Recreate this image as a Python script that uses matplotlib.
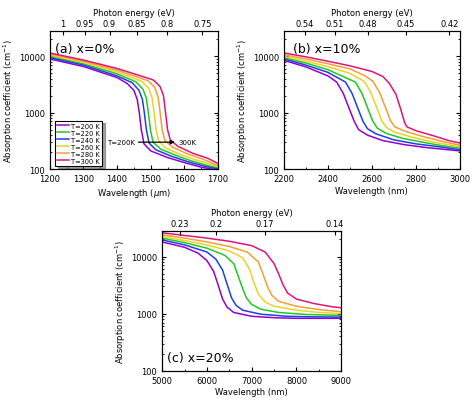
import matplotlib
matplotlib.use("Agg")
import matplotlib.pyplot as plt
import numpy as np

labels = ["T=200 K", "T=220 K", "T=240 K", "T=260 K", "T=280 K", "T=300 K"]
colors = ["#9400D3", "#22C822", "#1C3FE6", "#E8D428", "#F0A035", "#E0147C"]

a_x = [
 [1200,1300,1400,1430,1450,1460,1466,1472,1480,1500,1550,1600,1650,1700],
 [1200,1300,1400,1457,1477,1487,1493,1499,1507,1530,1575,1620,1670,1700],
 [1200,1300,1400,1445,1465,1475,1481,1487,1495,1515,1560,1610,1660,1700],
 [1200,1300,1400,1474,1494,1504,1510,1516,1524,1545,1590,1635,1680,1700],
 [1200,1300,1400,1450,1492,1512,1522,1528,1534,1542,1565,1610,1655,1700],
 [1200,1300,1400,1470,1508,1528,1538,1544,1550,1558,1580,1625,1670,1700],
]
a_y = [
 [9000,6600,4200,3300,2500,1700,1000,500,280,210,160,130,108,95],
 [10000,7400,4900,3500,2600,1800,1000,500,300,225,175,140,115,105],
 [9500,7000,4500,3400,2500,1750,1000,500,290,220,170,135,112,100],
 [10500,7800,5300,3600,2700,1850,1000,500,310,235,180,145,120,110],
 [11000,8200,5700,4500,3700,2800,1900,1000,500,320,245,185,150,115],
 [11500,8600,6100,4500,3800,2900,2000,1000,500,330,255,190,155,125],
]
b_x = [
 [2200,2300,2400,2440,2470,2500,2520,2540,2580,2650,2750,2850,3000],
 [2200,2300,2400,2525,2555,2585,2605,2625,2665,2740,2850,2920,3000],
 [2200,2300,2400,2480,2510,2540,2560,2580,2620,2700,2800,2900,3000],
 [2200,2300,2400,2500,2565,2595,2625,2645,2665,2705,2780,2880,3000],
 [2200,2300,2400,2500,2570,2605,2635,2665,2685,2705,2750,2830,2920,3000],
 [2200,2300,2400,2500,2600,2650,2680,2710,2730,2750,2760,2800,2880,2950,3000],
]
b_y = [
 [8500,6500,4500,3500,2200,1100,700,500,400,320,270,240,210],
 [9500,7600,5800,3500,2200,1100,700,530,430,350,290,260,235],
 [9000,7000,5200,3500,2200,1100,700,520,420,330,280,250,220],
 [10000,8200,6600,5000,3600,2300,1150,720,550,450,370,300,250],
 [10700,9000,7400,6000,4500,3600,2300,1150,720,560,470,380,310,265],
 [11500,9800,8200,6800,5400,4400,3300,2100,1200,650,560,480,390,320,290],
]
c_x = [
 [5000,5500,5800,6000,6150,6250,6350,6450,6600,7000,7500,8000,9000],
 [5000,5500,6000,6400,6600,6700,6780,6880,7000,7200,7600,8200,9000],
 [5000,5500,6000,6200,6350,6450,6550,6650,6800,7200,7800,8400,9000],
 [5000,5500,6000,6500,6800,6950,7050,7150,7300,7500,8000,8500,9000],
 [5000,5500,6000,6500,6900,7150,7250,7350,7450,7600,8000,8500,9000],
 [5000,6000,6500,7000,7300,7500,7600,7700,7800,8000,8400,8800,9000],
]
c_y = [
 [18000,14500,11500,8500,5500,3200,1800,1300,1050,900,850,830,830],
 [21000,17500,14000,10500,7500,4500,3000,1900,1450,1200,1050,970,930],
 [19500,16000,12000,9000,5800,3300,1900,1400,1150,980,900,880,870],
 [22500,19000,16000,12500,9500,6000,3500,2200,1600,1350,1150,1050,1000],
 [24000,21000,18000,15000,12000,8000,5000,3000,2100,1650,1350,1180,1080],
 [26000,21000,18500,15500,12000,7500,5000,3200,2300,1800,1500,1320,1270],
]
a_E = [1, 0.95, 0.9, 0.85, 0.8, 0.75]
b_E = [0.54, 0.51, 0.48, 0.45, 0.42]
c_E = [0.23, 0.2, 0.17, 0.14]

fig = plt.figure(figsize=(4.74, 4.02), dpi=100)
FS = 6.0

def panel(rect, xs, ys, xlim, xticks, E, xlabel, title, tpos, minor):
    ax = fig.add_axes(rect)
    for x, y, c, l in zip(xs, ys, colors, labels):
        ax.plot(x, y, color=c, lw=1.1, label=l)
    ax.set_yscale("log")
    ax.set_xlim(*xlim)
    ax.set_ylim(100, 28000)
    ax.set_xticks(xticks)
    ax.set_xticks(minor, minor=True)
    ax.set_yticks([100, 1000, 10000])
    ax.set_yticklabels(["100", "1000", "10000"])
    ax.tick_params(which="both", direction="in", top=False, right=True, labelsize=FS)
    ax.tick_params(which="major", length=3)
    ax.tick_params(which="minor", length=1.5)
    ax.set_xlabel(xlabel, fontsize=FS, labelpad=2)
    ax.set_ylabel("Absorption coefficient (cm$^{-1}$)", fontsize=FS, labelpad=2)
    ax.text(tpos[0], tpos[1], title, transform=ax.transAxes, fontsize=9)
    for s in ax.spines.values():
        s.set_linewidth(0.8)
    top = ax.twiny()
    top.set_xlim(*xlim)
    top.set_xticks([1239.84 / e for e in E])
    top.set_xticklabels([f"{e:g}" for e in E])
    top.tick_params(direction="in", length=3, labelsize=FS, pad=2)
    top.set_xlabel("Photon energy (eV)", fontsize=FS, labelpad=3)
    return ax

axa = panel([0.105, 0.577, 0.355, 0.343], a_x, a_y, (1200, 1700),
            [1200, 1300, 1400, 1500, 1600, 1700], a_E, "Wavelength ($\\mu$m)",
            "(a) x=0%", (0.03, 0.85), np.arange(1250, 1700, 100))
axb = panel([0.599, 0.577, 0.371, 0.343], b_x, b_y, (2200, 3000),
            [2200, 2400, 2600, 2800, 3000], b_E, "Wavelength (nm)",
            "(b) x=10%", (0.05, 0.85), np.arange(2300, 3000, 200))
axc = panel([0.342, 0.075, 0.378, 0.348], c_x, c_y, (5000, 9000),
            [5000, 6000, 7000, 8000, 9000], c_E, "Wavelength (nm)",
            "(c) x=20%", (0.03, 0.07), np.arange(5500, 9000, 1000))

leg = axa.legend(loc="lower left", bbox_to_anchor=(0.01, 0.0), fontsize=4.8,
                 frameon=True, fancybox=False, shadow=True, handlelength=1.8,
                 borderpad=0.3, labelspacing=0.15, handletextpad=0.4)
leg.get_frame().set_edgecolor("black")
leg.get_frame().set_linewidth(0.8)

axa.annotate("", xy=(1580, 300), xytext=(1455, 300),
             arrowprops=dict(arrowstyle="-|>", color="black", lw=0.9, mutation_scale=6))
axa.text(1453, 300, "T=200K", fontsize=5.0, ha="right", va="center")
axa.text(1583, 300, "300K", fontsize=5.0, ha="left", va="center")

fig.savefig("out.png", dpi=100)
